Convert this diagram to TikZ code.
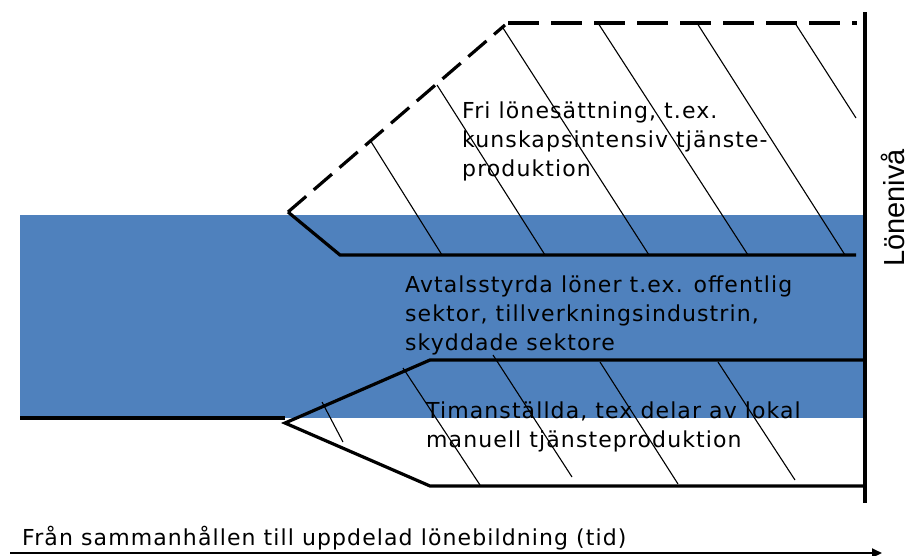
\documentclass[tikz,border=0pt]{standalone}
\usepackage{fontspec}
\setmainfont{DejaVu Sans}[LetterSpace=5]
\newfontfamily\axisfont{Liberation Sans}
\usetikzlibrary{arrows.meta}
\definecolor{band}{HTML}{4F81BD}
\begin{document}
\begin{tikzpicture}[x=1pt,y=-1pt,
  thickline/.style={line width=3.2pt,line join=miter},
  hatch/.style={line width=1.1pt},
  dashline/.style={line width=3.2pt,dash pattern=on 31pt off 12pt},
  dashdiag/.style={line width=3.2pt,dash pattern=on 24pt off 10pt},
  label/.style={font=\fontsize{22}{29}\selectfont,align=left,anchor=base west,inner sep=0pt}]
\useasboundingbox (0,0) rectangle (909,555);
% blue band
\fill[band] (20,215) rectangle (865,418);
% coordinates
\coordinate (apexU) at (288,212);
\coordinate (topL) at (505,25);
\coordinate (topS) at (508,23);
\coordinate (topR) at (857,23);
\coordinate (midL) at (340,255);
\coordinate (midR) at (856,255);
\coordinate (baseL) at (20,418);
\coordinate (baseR) at (285,418);
\coordinate (apexL) at (285,423);
\coordinate (lowUL) at (430,360);
\coordinate (lowUR) at (865,360);
\coordinate (lowBL) at (430,486);
\coordinate (lowBR) at (865,486);
\coordinate (axT) at (865,12);
\coordinate (axB) at (865,503);
\coordinate (t0) at (10,553);
\coordinate (t1) at (882,553);
% upper hatching
\draw[hatch] (370,140) -- (442,255);
\draw[hatch] (437,85) -- (545,255);
\draw[hatch] (503,28) -- (649,255);
\draw[hatch] (598,23) -- (748,255);
\draw[hatch] (697,23) -- (845,255);
\draw[hatch] (795,23) -- (856,118);
% lower hatching
\draw[hatch] (322,402) -- (343,442);
\draw[hatch] (403,368) -- (480,485);
\draw[hatch] (493,355) -- (572,477);
\draw[hatch] (600,362) -- (678,484);
\draw[hatch] (718,362) -- (795,480);
% upper shape
\draw[dashdiag] (apexU) -- (topL);
\draw[dashline] (topS) -- (topR);
\draw[thickline] (apexU) -- (midL) -- (midR);
% lower shape
\draw[thickline] (baseL) -- (baseR);
\draw[thickline] (lowUR) -- (lowUL) -- (apexL) -- (lowBL) -- (lowBR);
% axis
\draw[line width=4pt] (axT) -- (axB);
\node[rotate=90,anchor=base,inner sep=0pt,font=\axisfont\fontsize{29}{32}\selectfont] (lon) at (904,208) {Lönenivå};
% time arrow
\draw[line width=2pt,-{Triangle[length=10pt,width=9pt]}] (t0) -- (t1);
\node[label] (tid) at (22,545) {Från sammanhållen till uppdelad lönebildning (tid)};
% labels (base anchor = baseline of last line)
\node[label] (fri) at (462,176) {Fri lönesättning, t.ex.\\kunskapsintensiv tjänste-\\produktion};
\node[label] (avt) at (405,350) {Avtalsstyrda löner t.ex. offentlig\\sektor, tillverkningsindustrin,\\skyddade sektore};
\node[label] (tim) at (426,447) {Timanställda, tex delar av lokal\\manuell tjänsteproduktion};
\end{tikzpicture}
\end{document}
